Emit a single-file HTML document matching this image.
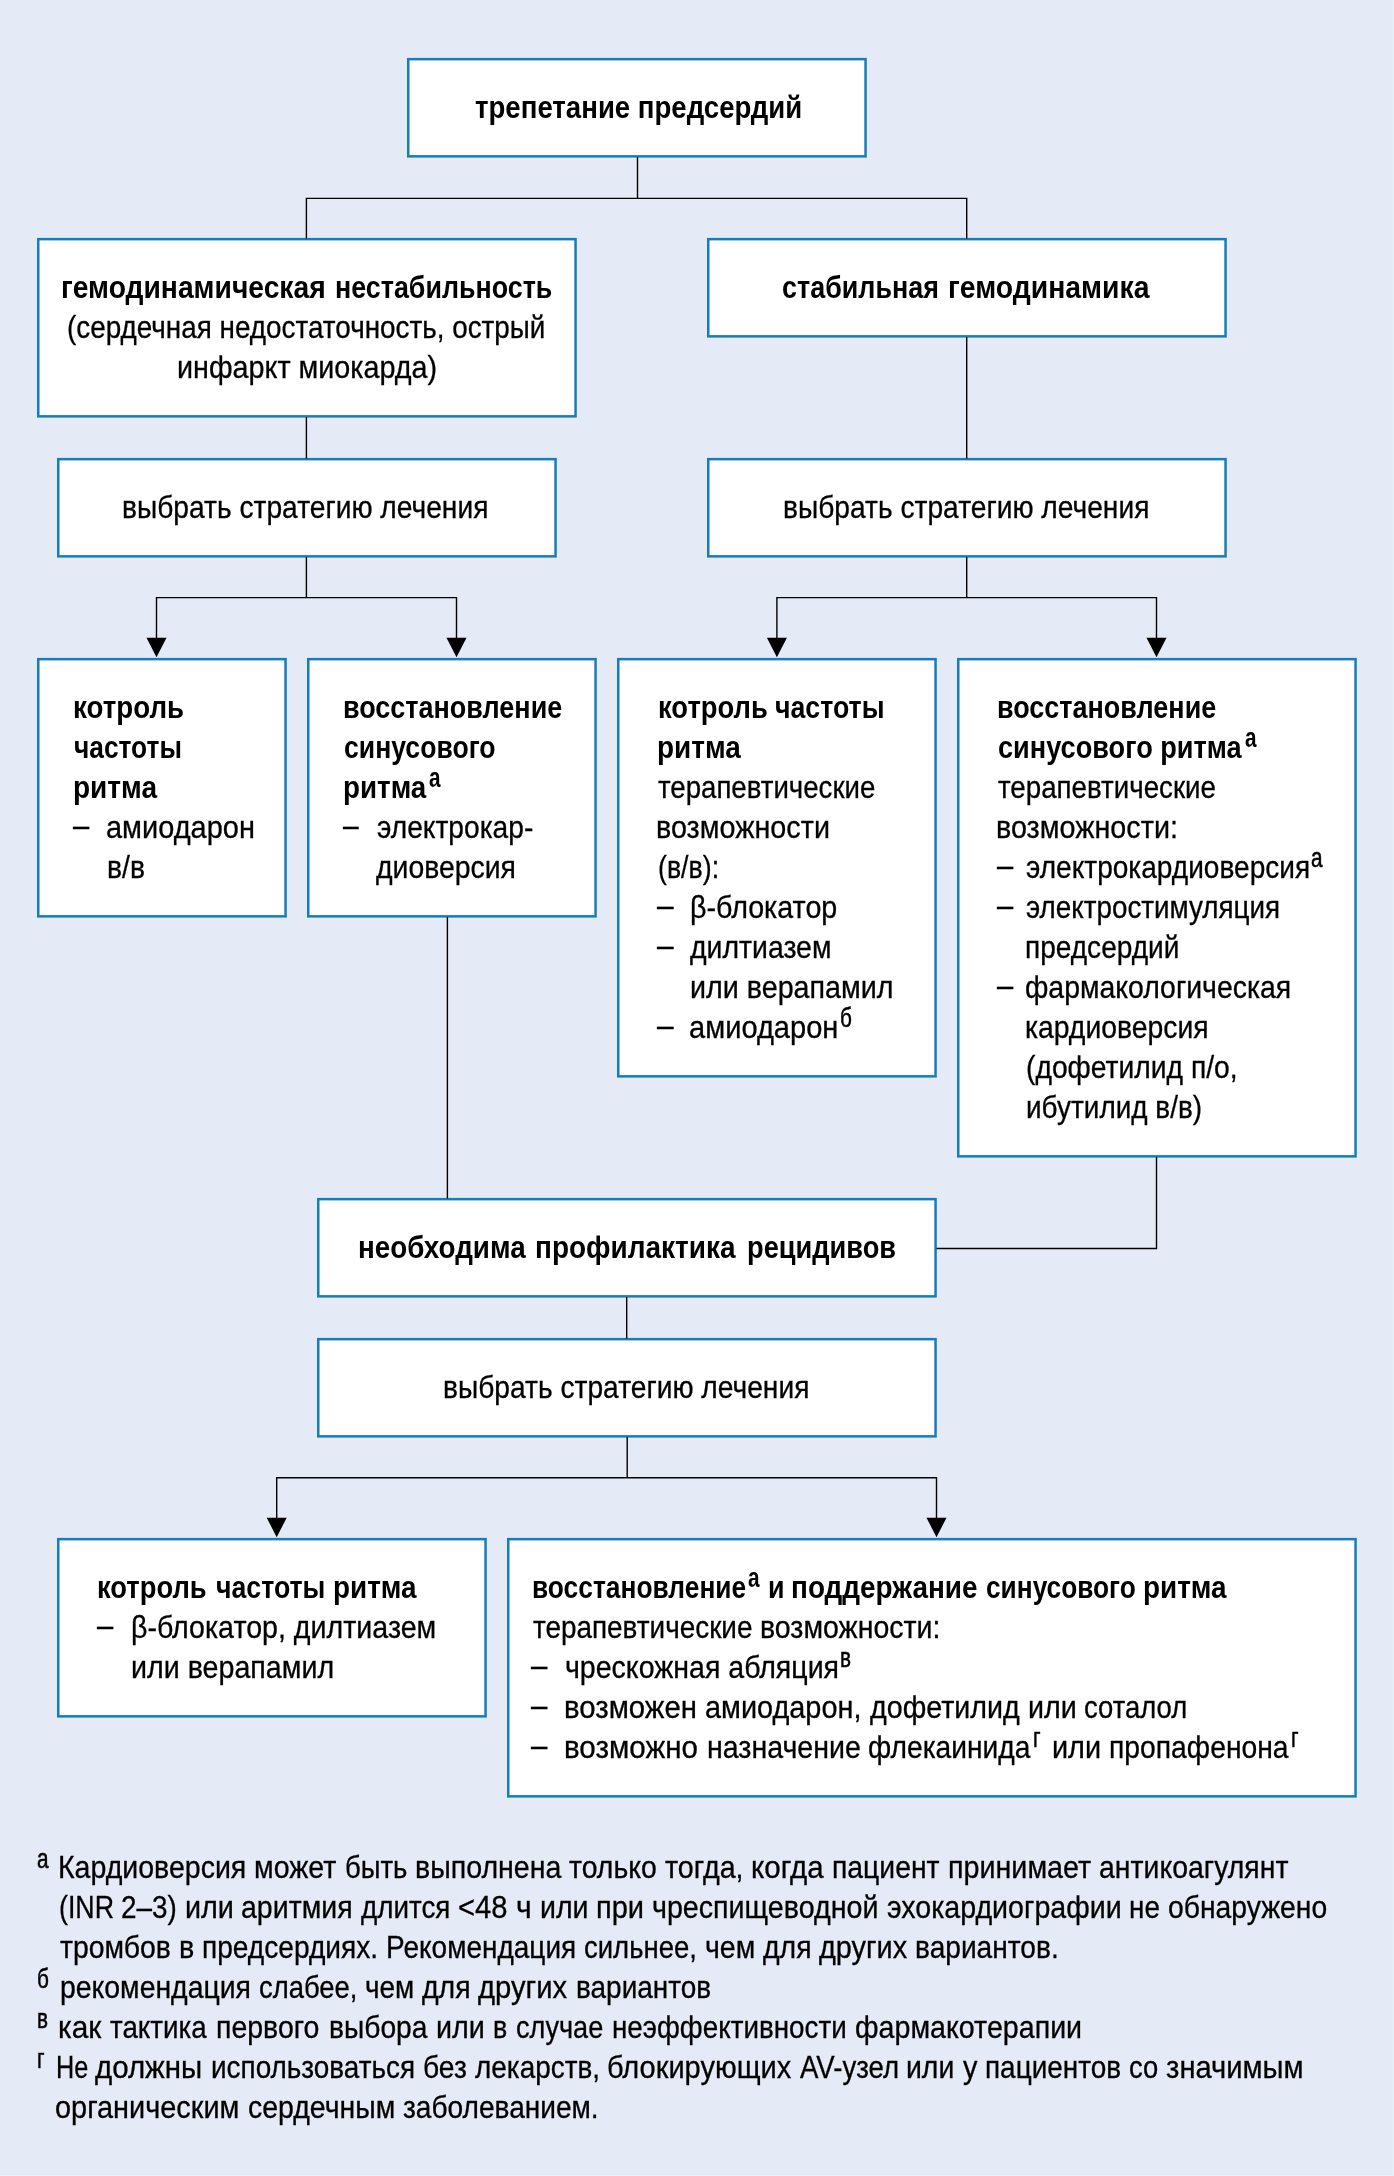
<!DOCTYPE html>
<html lang="ru">
<head>
<meta charset="utf-8">
<title>Трепетание предсердий — алгоритм лечения</title>
<style>
html,body{margin:0;padding:0}
body{width:1394px;height:2176px;background:#e5ebf6;position:relative;overflow:hidden;font-family:"Liberation Sans", sans-serif;color:#000}
#chart{position:absolute;left:0;top:0;width:1394px;height:2176px;will-change:transform}
svg{position:absolute;left:0;top:0}
#chart::after{content:"";position:absolute;left:0;top:0;right:0;bottom:0;box-shadow:inset -1px -1px 0 #ecf2fc;pointer-events:none}
.box,.notes{position:absolute}
.t{position:absolute;white-space:pre;vertical-align:baseline;font-weight:normal;font-size:30.7px;line-height:40px;height:40px;transform-origin:0 0;margin:0}
.t{-webkit-text-stroke:0.3px #000}
.b{font-weight:bold;-webkit-text-stroke:0}
.s{font-size:27.3px;-webkit-text-stroke:0.55px #000}
.s.b{-webkit-text-stroke:0}

</style>
</head>
<body>
<div id="chart">
<svg width="1394" height="2176" viewBox="0 0 1394 2176">
<g fill="#fff" stroke="#177dba" stroke-width="2.5">
<rect x="408.25" y="59.15" width="457.30" height="97.20"/>
<rect x="38.25" y="239.15" width="537.30" height="177.20"/>
<rect x="708.25" y="239.15" width="517.30" height="97.20"/>
<rect x="58.25" y="459.15" width="497.30" height="97.20"/>
<rect x="708.25" y="459.15" width="517.30" height="97.20"/>
<rect x="38.25" y="659.15" width="247.30" height="257.20"/>
<rect x="308.25" y="659.15" width="287.30" height="257.20"/>
<rect x="618.25" y="659.15" width="317.30" height="417.20"/>
<rect x="958.25" y="659.15" width="397.30" height="497.20"/>
<rect x="318.25" y="1199.15" width="617.30" height="97.20"/>
<rect x="318.25" y="1339.15" width="617.30" height="97.20"/>
<rect x="58.25" y="1539.15" width="427.30" height="177.20"/>
<rect x="508.25" y="1539.15" width="847.30" height="257.20"/>
</g>
<g fill="none" stroke="#000" stroke-width="1.4">
<polyline points="637.5,157.0 637.5,198.4"/>
<polyline points="306.4,238.5 306.4,198.4 966.7,198.4 966.7,238.5"/>
<polyline points="306.4,417.0 306.4,458.5"/>
<polyline points="966.7,337.0 966.7,458.5"/>
<polyline points="306.4,557.0 306.4,597.6"/>
<polyline points="156.5,640.0 156.5,597.6 456.5,597.6 456.5,640.0"/>
<polyline points="966.7,557.0 966.7,597.6"/>
<polyline points="776.9,640.0 776.9,597.6 1156.5,597.6 1156.5,640.0"/>
<polyline points="447.4,917.0 447.4,1198.5"/>
<polyline points="1156.5,1157.0 1156.5,1248.5 936.5,1248.5"/>
<polyline points="626.7,1297.0 626.7,1338.5"/>
<polyline points="627.2,1437.0 627.2,1477.8"/>
<polyline points="276.7,1520.0 276.7,1477.8 936.5,1477.8 936.5,1520.0"/>
</g>
<g fill="#000">
<polygon points="146.5,637.7 166.5,637.7 156.5,657.2"/>
<polygon points="446.5,637.7 466.5,637.7 456.5,657.2"/>
<polygon points="766.9,637.7 786.9,637.7 776.9,657.2"/>
<polygon points="1146.5,637.7 1166.5,637.7 1156.5,657.2"/>
<polygon points="266.7,1517.7 286.7,1517.7 276.7,1537.2"/>
<polygon points="926.5,1517.7 946.5,1517.7 936.5,1537.2"/>
</g>
</svg>
<div class="box" style="left:407px;top:57px;width:460px;height:100px">
<b class="t b" style="left:68.00px;top:30.66px;transform:scaleX(0.8991)">трепетание предсердий</b>
</div>
<div class="box" style="left:37px;top:237px;width:540px;height:180px">
<b class="t b" style="left:24.46px;top:30.66px;transform:scaleX(0.9208)">гемодинамическая </b>
<b class="t b" style="left:297.85px;top:30.66px;transform:scaleX(0.8749)">нестабильность</b>
<span class="t" style="left:29.69px;top:70.66px;transform:scaleX(0.9076)">(сердечная недостаточность, острый</span>
<span class="t" style="left:139.73px;top:110.66px;transform:scaleX(0.9362)">инфаркт миокарда)</span>
</div>
<div class="box" style="left:707px;top:237px;width:520px;height:100px">
<b class="t b" style="left:74.62px;top:30.66px;transform:scaleX(0.8772)">стабильная </b>
<b class="t b" style="left:240.63px;top:30.66px;transform:scaleX(0.9243)">гемодинамика</b>
</div>
<div class="box" style="left:57px;top:457px;width:500px;height:100px">
<span class="t" style="left:64.96px;top:30.66px;transform:scaleX(0.9179)">выбрать стратегию лечения</span>
</div>
<div class="box" style="left:707px;top:457px;width:520px;height:100px">
<span class="t" style="left:75.86px;top:30.66px;transform:scaleX(0.9179)">выбрать стратегию лечения</span>
</div>
<div class="box" style="left:37px;top:657px;width:250px;height:260px">
<b class="t b" style="left:35.99px;top:30.66px;transform:scaleX(0.9028)">котроль</b>
<b class="t b" style="left:36.94px;top:70.66px;transform:scaleX(0.8577)">частоты</b>
<b class="t b" style="left:35.97px;top:110.66px;transform:scaleX(0.9127)">ритма</b>
<span class="t" style="left:35.80px;top:148.66px;transform:scaleX(0.9500)">–</span>
<span class="t" style="left:68.86px;top:150.66px;transform:scaleX(0.9438)">амиодарон</span>
<span class="t" style="left:69.65px;top:190.66px;transform:scaleX(0.9226)">в/в</span>
</div>
<div class="box" style="left:307px;top:657px;width:290px;height:260px">
<b class="t b" style="left:35.74px;top:30.66px;transform:scaleX(0.8790)">восстановление</b>
<b class="t b" style="left:36.63px;top:70.66px;transform:scaleX(0.8668)">синусового</b>
<b class="t b" style="left:35.69px;top:110.66px;transform:scaleX(0.9050)">ритма</b>
<sup class="t b s" style="left:122.30px;top:100.84px;transform:scaleX(0.7600)">а</sup>
<span class="t" style="left:35.50px;top:148.66px;transform:scaleX(0.9167)">–</span>
<span class="t" style="left:69.90px;top:150.66px;transform:scaleX(0.9175)">электрокар-</span>
<span class="t" style="left:68.60px;top:190.66px;transform:scaleX(0.9246)">диоверсия</span>
</div>
<div class="box" style="left:617px;top:657px;width:320px;height:420px">
<b class="t b" style="left:40.61px;top:30.66px;transform:scaleX(0.8928)">котроль </b>
<b class="t b" style="left:158.42px;top:30.66px;transform:scaleX(0.8699)">частоты</b>
<b class="t b" style="left:40.18px;top:70.66px;transform:scaleX(0.9116)">ритма</b>
<span class="t" style="left:40.80px;top:110.66px;transform:scaleX(0.8998)">терапевтические</span>
<span class="t" style="left:38.93px;top:150.66px;transform:scaleX(0.9369)">возможности</span>
<span class="t" style="left:40.93px;top:190.66px;transform:scaleX(0.8713)">(в/в):</span>
<span class="t" style="left:39.50px;top:228.66px;transform:scaleX(0.9722)">–</span>
<span class="t" style="left:73.13px;top:230.66px;transform:scaleX(0.9337)">β-блокатор</span>
<span class="t" style="left:39.50px;top:268.66px;transform:scaleX(0.9722)">–</span>
<span class="t" style="left:73.30px;top:270.66px;transform:scaleX(0.9259)">дилтиазем</span>
<span class="t" style="left:72.63px;top:310.66px;transform:scaleX(0.9350)">или верапамил</span>
<span class="t" style="left:39.50px;top:348.66px;transform:scaleX(0.9722)">–</span>
<span class="t" style="left:72.35px;top:350.66px;transform:scaleX(0.9470)">амиодарон</span>
<sup class="t s" style="left:223.24px;top:340.84px;transform:scaleX(0.7600)">б</sup>
</div>
<div class="box" style="left:957px;top:657px;width:400px;height:500px">
<b class="t b" style="left:40.04px;top:30.66px;transform:scaleX(0.8790)">восстановление</b>
<b class="t b" style="left:40.92px;top:70.66px;transform:scaleX(0.8846)">синусового ритма</b>
<sup class="t b s" style="left:287.90px;top:60.84px;transform:scaleX(0.7600)">а</sup>
<span class="t" style="left:41.10px;top:110.66px;transform:scaleX(0.9023)">терапевтические</span>
<span class="t" style="left:39.23px;top:150.66px;transform:scaleX(0.9370)">возможности:</span>
<span class="t" style="left:39.80px;top:188.66px;transform:scaleX(0.9500)">–</span>
<span class="t" style="left:68.70px;top:190.66px;transform:scaleX(0.9145)">электрокардиоверсия</span>
<sup class="t s" style="left:353.94px;top:180.84px;transform:scaleX(0.7600)">а</sup>
<span class="t" style="left:39.80px;top:228.66px;transform:scaleX(0.9500)">–</span>
<span class="t" style="left:68.70px;top:230.66px;transform:scaleX(0.9060)">электростимуляция</span>
<span class="t" style="left:68.07px;top:270.66px;transform:scaleX(0.9137)">предсердий</span>
<span class="t" style="left:39.80px;top:308.66px;transform:scaleX(0.9500)">–</span>
<span class="t" style="left:67.77px;top:310.66px;transform:scaleX(0.9255)">фармакологическая</span>
<span class="t" style="left:68.05px;top:350.66px;transform:scaleX(0.9231)">кардиоверсия</span>
<span class="t" style="left:68.78px;top:390.66px;transform:scaleX(0.9206)">(дофетилид п/о,</span>
<span class="t" style="left:68.58px;top:430.66px;transform:scaleX(0.9106)">ибутилид в/в)</span>
</div>
<div class="box" style="left:317px;top:1197px;width:620px;height:100px">
<b class="t b" style="left:40.69px;top:30.66px;transform:scaleX(0.9066)">необходима </b>
<b class="t b" style="left:218.09px;top:30.66px;transform:scaleX(0.9112)">профилактика </b>
<b class="t b" style="left:429.55px;top:30.66px;transform:scaleX(0.8878)">рецидивов</b>
</div>
<div class="box" style="left:317px;top:1337px;width:620px;height:100px">
<span class="t" style="left:126.36px;top:30.66px;transform:scaleX(0.9179)">выбрать стратегию лечения</span>
</div>
<div class="box" style="left:57px;top:1537px;width:430px;height:180px">
<b class="t b" style="left:40.32px;top:30.66px;transform:scaleX(0.8912)">котроль </b>
<b class="t b" style="left:158.93px;top:30.66px;transform:scaleX(0.8694)">частоты </b>
<b class="t b" style="left:275.91px;top:30.66px;transform:scaleX(0.9080)">ритма</b>
<span class="t" style="left:39.90px;top:68.66px;transform:scaleX(0.9500)">–</span>
<span class="t" style="left:74.14px;top:70.66px;transform:scaleX(0.9319)">β-блокатор, дилтиазем</span>
<span class="t" style="left:74.13px;top:110.66px;transform:scaleX(0.9331)">или верапамил</span>
</div>
<div class="box" style="left:507px;top:1537px;width:850px;height:260px">
<b class="t b" style="left:24.58px;top:30.66px;transform:scaleX(0.8588)">восстановление</b>
<sup class="t b s" style="left:240.70px;top:20.84px;transform:scaleX(0.7600)">а</sup>
<b class="t b" style="left:260.55px;top:30.66px;transform:scaleX(0.8761)">и </b>
<b class="t b" style="left:284.48px;top:30.66px;transform:scaleX(0.9106)">поддержание </b>
<b class="t b" style="left:478.88px;top:30.66px;transform:scaleX(0.8561)">синусового </b>
<b class="t b" style="left:635.82px;top:30.66px;transform:scaleX(0.9090)">ритма</b>
<span class="t" style="left:25.60px;top:70.66px;transform:scaleX(0.9088)">терапевтические </span>
<span class="t" style="left:252.73px;top:70.66px;transform:scaleX(0.9291)">возможности:</span>
<span class="t" style="left:24.30px;top:108.66px;transform:scaleX(0.9556)">–</span>
<span class="t" style="left:58.37px;top:110.66px;transform:scaleX(0.9297)">чрескожная абляция</span>
<sup class="t s" style="left:333.34px;top:100.84px;transform:scaleX(0.7600)">в</sup>
<span class="t" style="left:24.30px;top:148.66px;transform:scaleX(0.9556)">–</span>
<span class="t" style="left:57.39px;top:150.66px;transform:scaleX(0.9555)">возможен </span>
<span class="t" style="left:198.47px;top:150.66px;transform:scaleX(0.9406)">амиодарон, </span>
<span class="t" style="left:362.89px;top:150.66px;transform:scaleX(0.9337)">дофетилид </span>
<span class="t" style="left:520.64px;top:150.66px;transform:scaleX(0.9337)">или </span>
<span class="t" style="left:577.36px;top:150.66px;transform:scaleX(0.8946)">соталол</span>
<span class="t" style="left:24.30px;top:188.66px;transform:scaleX(0.9556)">–</span>
<span class="t" style="left:57.37px;top:190.66px;transform:scaleX(0.9627)">возможно </span>
<span class="t" style="left:199.56px;top:190.66px;transform:scaleX(0.9308)">назначение </span>
<span class="t" style="left:361.37px;top:190.66px;transform:scaleX(0.9178)">флекаинида</span>
<sup class="t s" style="left:526.24px;top:180.84px;transform:scaleX(0.7600)">г</sup>
<span class="t" style="left:544.62px;top:190.66px;transform:scaleX(0.9401)">или </span>
<span class="t" style="left:601.74px;top:190.66px;transform:scaleX(0.9221)">пропафенона</span>
<sup class="t s" style="left:783.84px;top:180.84px;transform:scaleX(0.7600)">г</sup>
</div>
<div class="notes" style="left:0;top:1840px;width:1394px;height:300px">
<sup class="t s" style="left:37.44px;top:-0.86px;transform:scaleX(0.7600)">а</sup>
<span class="t" style="left:58.24px;top:7.66px;transform:scaleX(0.9292)">Кардиоверсия </span>
<span class="t" style="left:254.42px;top:7.66px;transform:scaleX(0.9308)">может </span>
<span class="t" style="left:344.72px;top:7.66px;transform:scaleX(0.8959)">быть </span>
<span class="t" style="left:414.71px;top:7.66px;transform:scaleX(0.9305)">выполнена </span>
<span class="t" style="left:569.02px;top:7.66px;transform:scaleX(0.9258)">только </span>
<span class="t" style="left:664.71px;top:7.66px;transform:scaleX(0.9340)">тогда, </span>
<span class="t" style="left:751.15px;top:7.66px;transform:scaleX(0.9620)">когда </span>
<span class="t" style="left:832.18px;top:7.66px;transform:scaleX(0.9231)">пациент </span>
<span class="t" style="left:947.54px;top:7.66px;transform:scaleX(0.9349)">принимает </span>
<span class="t" style="left:1098.73px;top:7.66px;transform:scaleX(0.9262)">антикоагулянт</span>
<span class="t" style="left:58.73px;top:47.66px;transform:scaleX(0.8719)">(INR </span>
<span class="t" style="left:121.12px;top:47.66px;transform:scaleX(0.9081)">2–3) </span>
<span class="t" style="left:184.58px;top:47.66px;transform:scaleX(0.9367)">или </span>
<span class="t" style="left:241.46px;top:47.66px;transform:scaleX(0.9289)">аритмия </span>
<span class="t" style="left:361.03px;top:47.66px;transform:scaleX(0.9065)">длится </span>
<span class="t" style="left:458.12px;top:47.66px;transform:scaleX(0.9498)">&lt;48 </span>
<span class="t" style="left:515.62px;top:47.66px;transform:scaleX(0.9838)">ч </span>
<span class="t" style="left:539.85px;top:47.66px;transform:scaleX(0.9300)">или </span>
<span class="t" style="left:596.28px;top:47.66px;transform:scaleX(0.9456)">при </span>
<span class="t" style="left:652.41px;top:47.66px;transform:scaleX(0.9334)">чреспищеводной </span>
<span class="t" style="left:886.83px;top:47.66px;transform:scaleX(0.9315)">эхокардиографии </span>
<span class="t" style="left:1129.44px;top:47.66px;transform:scaleX(0.9082)">не </span>
<span class="t" style="left:1168.06px;top:47.66px;transform:scaleX(0.9221)">обнаружено</span>
<span class="t" style="left:60.10px;top:87.66px;transform:scaleX(0.9246)">тромбов </span>
<span class="t" style="left:178.81px;top:87.66px;transform:scaleX(0.9386)">в </span>
<span class="t" style="left:202.16px;top:87.66px;transform:scaleX(0.9160)">предсердиях. </span>
<span class="t" style="left:386.12px;top:87.66px;transform:scaleX(0.9125)">Рекомендация </span>
<span class="t" style="left:584.11px;top:87.66px;transform:scaleX(0.8962)">сильнее, </span>
<span class="t" style="left:704.63px;top:87.66px;transform:scaleX(0.9266)">чем </span>
<span class="t" style="left:762.71px;top:87.66px;transform:scaleX(0.9267)">для </span>
<span class="t" style="left:819.20px;top:87.66px;transform:scaleX(0.9406)">других </span>
<span class="t" style="left:915.35px;top:87.66px;transform:scaleX(0.9165)">вариантов.</span>
<sup class="t s" style="left:37.44px;top:118.84px;transform:scaleX(0.7600)">б</sup>
<span class="t" style="left:59.87px;top:127.66px;transform:scaleX(0.9253)">рекомендация </span>
<span class="t" style="left:258.76px;top:127.66px;transform:scaleX(0.8931)">слабее, </span>
<span class="t" style="left:364.79px;top:127.66px;transform:scaleX(0.9111)">чем </span>
<span class="t" style="left:421.90px;top:127.66px;transform:scaleX(0.9274)">для </span>
<span class="t" style="left:478.43px;top:127.66px;transform:scaleX(0.9509)">других </span>
<span class="t" style="left:575.67px;top:127.66px;transform:scaleX(0.9109)">вариантов</span>
<sup class="t s" style="left:37.44px;top:158.84px;transform:scaleX(0.7600)">в</sup>
<span class="t" style="left:57.75px;top:167.66px;transform:scaleX(0.9730)">как </span>
<span class="t" style="left:110.40px;top:167.66px;transform:scaleX(0.9041)">тактика </span>
<span class="t" style="left:216.34px;top:167.66px;transform:scaleX(0.9280)">первого </span>
<span class="t" style="left:329.16px;top:167.66px;transform:scaleX(0.9192)">выбора </span>
<span class="t" style="left:435.83px;top:167.66px;transform:scaleX(0.9358)">или </span>
<span class="t" style="left:492.95px;top:167.66px;transform:scaleX(0.8769)">в </span>
<span class="t" style="left:515.92px;top:167.66px;transform:scaleX(0.8836)">случае </span>
<span class="t" style="left:611.89px;top:167.66px;transform:scaleX(0.9058)">неэффективности </span>
<span class="t" style="left:854.97px;top:167.66px;transform:scaleX(0.9326)">фармакотерапии</span>
<sup class="t s" style="left:37.44px;top:198.84px;transform:scaleX(0.7600)">г</sup>
<span class="t" style="left:56.16px;top:207.66px;transform:scaleX(0.8220)">Не </span>
<span class="t" style="left:95.41px;top:207.66px;transform:scaleX(0.9601)">должны </span>
<span class="t" style="left:210.98px;top:207.66px;transform:scaleX(0.9092)">использоваться </span>
<span class="t" style="left:422.86px;top:207.66px;transform:scaleX(0.9189)">без </span>
<span class="t" style="left:474.52px;top:207.66px;transform:scaleX(0.9103)">лекарств, </span>
<span class="t" style="left:607.35px;top:207.66px;transform:scaleX(0.9452)">блокирующих </span>
<span class="t" style="left:799.64px;top:207.66px;transform:scaleX(0.8993)">AV-узел </span>
<span class="t" style="left:906.36px;top:207.66px;transform:scaleX(0.9259)">или </span>
<span class="t" style="left:962.58px;top:207.66px;transform:scaleX(0.9418)">у </span>
<span class="t" style="left:985.13px;top:207.66px;transform:scaleX(0.9098)">пациентов </span>
<span class="t" style="left:1128.91px;top:207.66px;transform:scaleX(0.8927)">со </span>
<span class="t" style="left:1165.76px;top:207.66px;transform:scaleX(0.9506)">значимым</span>
<span class="t" style="left:55.06px;top:247.66px;transform:scaleX(0.9416)">органическим </span>
<span class="t" style="left:247.53px;top:247.66px;transform:scaleX(0.9276)">сердечным </span>
<span class="t" style="left:402.76px;top:247.66px;transform:scaleX(0.9148)">заболеванием.</span>
</div>
</div>
</body>
</html>
